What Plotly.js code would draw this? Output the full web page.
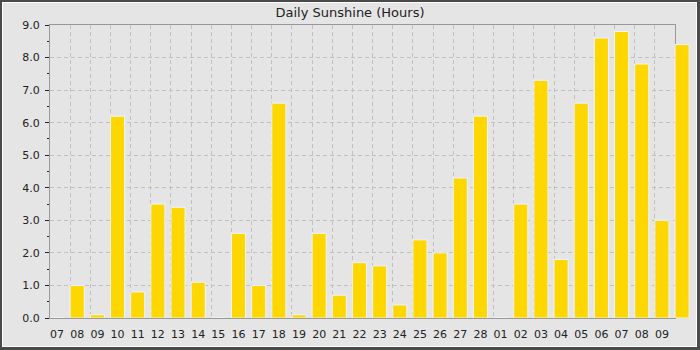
<!DOCTYPE html>
<html>
<head>
<meta charset="utf-8">
<script src="https://cdn.plot.ly/plotly-3.0.1.min.js"></script>
<style>
  html, body { margin: 0; padding: 0; background: #e5e5e5; }
  #wrap { position: relative; width: 700px; height: 350px; }
  #chart { width: 700px; height: 350px; }
  #frame { position: absolute; left: 0; top: 0; width: 700px; height: 350px; box-sizing: border-box;
           border: 2px solid #4a4a4a; border-right-width: 3px; border-bottom-width: 3px;
           box-shadow: inset 0 0 0 1px #ffffff; pointer-events: none; }
</style>
</head>
<body>
<div id="wrap"><div id="chart"></div><div id="frame"></div></div>
<script>
// Day labels (the last one falls outside the framed axis range)
const dayLabels = ["07","08","09","10","11","12","13","14","15","16","17","18","19","20","21","22",
                   "23","24","25","26","27","28","01","02","03","04","05","06","07","08","09","10"];
// Hours of sunshine per day
const sunshineHours = [0.0, 1.0, 0.1, 6.2, 0.8, 3.5, 3.4, 1.1, 0.0, 2.6, 1.0, 6.6, 0.1, 2.6, 0.7, 1.7,
                       1.6, 0.4, 2.4, 2.0, 4.3, 6.2, 0.0, 3.5, 7.3, 1.8, 6.6, 8.6, 8.8, 7.8, 3.0, 8.4];

const barWidth = 0.7;
const idx = dayLabels.map((_, i) => i);
const visibleCount = dayLabels.length - 1;
const xRange = [-barWidth / 2, visibleCount - barWidth / 2];
const gridVals = idx.map(i => i - barWidth / 2);

// layout geometry: framed plot is 625px wide inside a 640px wide drawing area
const marginL = 50, marginR = 10;
const framedWidth = 625;
const fullWidth = 700 - marginL - marginR;
const frameDomainEnd = framedWidth / fullWidth;
const barRange = [xRange[0], xRange[0] + (xRange[1] - xRange[0]) / frameDomainEnd];

const traces = [
  { type: 'scatter', x: [], y: [], xaxis: 'x', yaxis: 'y', hoverinfo: 'skip', showlegend: false },
  { type: 'scatter', x: [], y: [], xaxis: 'x2', yaxis: 'y', hoverinfo: 'skip', showlegend: false },
  {
    type: 'bar',
    x: idx,
    y: sunshineHours,
    xaxis: 'x3', yaxis: 'y2',
    width: barWidth,
    marker: { color: '#FFD700', line: { color: 'rgb(236,245,255)', width: 1 } },
    hoverinfo: 'skip'
  }
];

const font = { family: 'DejaVu Sans, sans-serif', size: 11, color: '#222' };

const layout = {
  width: 700, height: 350,
  margin: { l: marginL, r: marginR, t: 25, b: 32, pad: 0 },
  paper_bgcolor: '#e5e5e5',
  plot_bgcolor: 'rgba(0,0,0,0)',
  showlegend: false,
  font: font,
  title: { text: 'Daily Sunshine (Hours)', font: { family: 'DejaVu Sans, sans-serif', size: 13, color: '#222' },
           x: 0.5, xanchor: 'center', xref: 'container', y: 1 - 12 / 350, yref: 'container', yanchor: 'middle' },
  bargap: 0,
  xaxis: {
    domain: [0, frameDomainEnd], anchor: 'y',
    range: xRange,
    tickmode: 'array', tickvals: idx, ticktext: dayLabels,
    showgrid: false, zeroline: false,
    ticks: '', ticklabelstandoff: 6,
    showline: true, linecolor: '#999', linewidth: 1, mirror: true,
    tickfont: font
  },
  xaxis2: {
    overlaying: 'x', anchor: 'y', range: xRange,
    tickmode: 'array', tickvals: gridVals,
    showticklabels: false, ticks: '',
    showgrid: true, gridcolor: '#c0c0c0', gridwidth: 1, griddash: '4px,3px',
    zeroline: false, showline: false
  },
  yaxis: {
    domain: [0, 1], anchor: 'x',
    range: [0, 9], dtick: 1, tick0: 0, tickformat: '.1f',
    showgrid: true, gridcolor: '#c0c0c0', gridwidth: 1, griddash: '4px,3px',
    zeroline: false,
    ticks: 'outside', ticklen: 4, tickcolor: '#222', tickwidth: 1,
    ticklabelstandoff: 3,
    minor: { dtick: 0.5, ticks: 'outside', ticklen: 2, tickcolor: '#222', showgrid: false },
    showline: true, linecolor: '#999', linewidth: 1, mirror: true,
    tickfont: font
  },
  xaxis3: { domain: [0, 1], anchor: 'y2', range: barRange, visible: false, showgrid: false, zeroline: false },
  yaxis2: { domain: [0, 1], anchor: 'x3', range: [0, 9], visible: false, showgrid: false, zeroline: false }
};

Plotly.newPlot('chart', traces, layout, { staticPlot: true, displayModeBar: false });
</script>
</body>
</html>
